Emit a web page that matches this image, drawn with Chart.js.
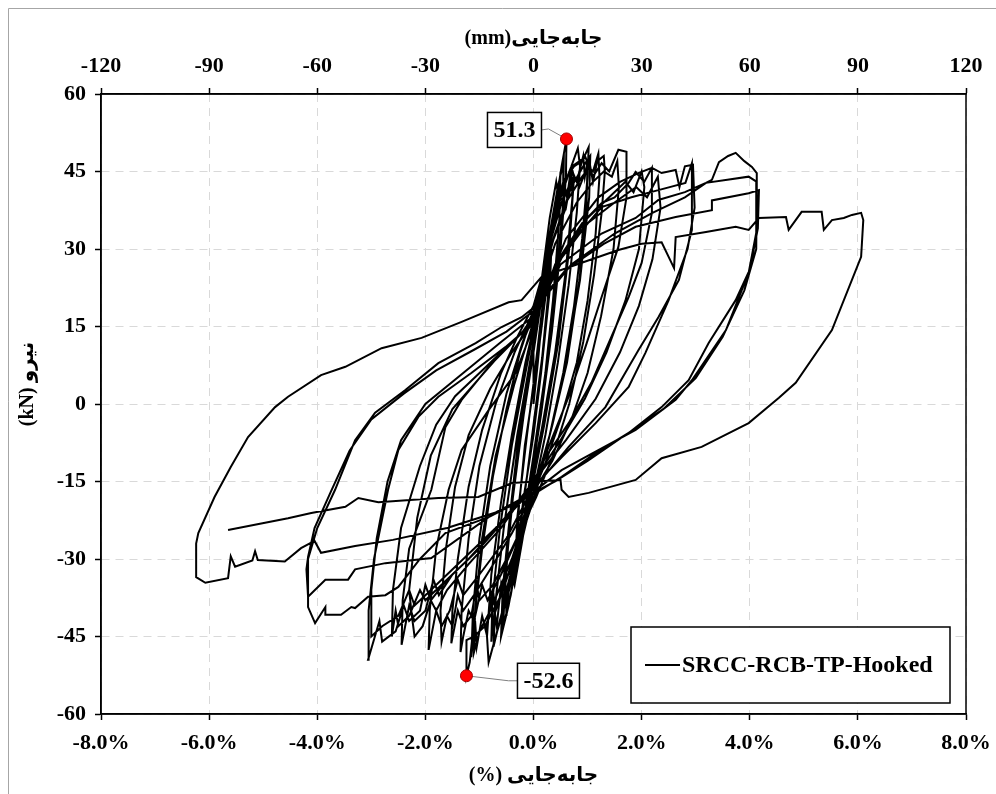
<!DOCTYPE html>
<html>
<head>
<meta charset="utf-8">
<script src="https://cdn.jsdelivr.net/npm/chart.js@4.4.0/dist/chart.umd.min.js"></script>
<style>
  html, body { margin: 0; padding: 0; background: #fff; overflow: hidden; }
</style>
</head>
<body>
<canvas id="hystChart" width="996" height="794"></canvas>
<script>
const cycle03 = [[0,0],[0.08,8],[0.16,17],[0.24,24],[0.3,28],[0.27,21],[0.16,9],[0,-4],[-0.12,-14],[-0.22,-22],[-0.3,-27],[-0.27,-20],[-0.16,-8],[0,3],[0.14,14],[0.26,24],[0.33,30],[0.3,22],[0.14,6],[0,-6],[-0.18,-18],[-0.33,-30],[-0.3,-22],[-0.12,-6],[0,4]];
const cycle05 = [[0,10],[0.15,24],[0.3,36],[0.42,43],[0.46,40],[0.5,45],[0.48,36],[0.36,20],[0.18,2],[0,-12],[-0.2,-26],[-0.35,-35],[-0.42,-32],[-0.5,-41],[-0.52,-35],[-0.42,-20],[-0.25,-4],[0,10]];
const cycle06 = [[0,4],[0.2,22],[0.4,38],[0.52,46],[0.61,51.3],[0.6,44],[0.5,30],[0.34,14],[0.14,-2],[-0.08,-17],[-0.3,-30],[-0.46,-39],[-0.6,-45],[-0.57,-36],[-0.46,-24],[-0.3,-9],[-0.1,5],[0.05,14],
  [0.25,30],[0.45,42],[0.56,47],[0.55,39],[0.42,24],[0.22,6],[0,-10],[-0.22,-25],[-0.42,-37],[-0.56,-43],[-0.52,-33],[-0.38,-18],[-0.18,-2],[0,10]];
const cycle07 = [[0,12],[0.2,28],[0.4,38],[0.55,42],[0.62,40],[0.7,46],[0.72,40],[0.6,26],[0.4,10],[0.15,-5],[-0.1,-18],[-0.35,-30],[-0.55,-38],[-0.6,-35],[-0.68,-43],[-0.72,-40],[-0.78,-46],[-0.76,-38],[-0.62,-24],[-0.4,-8],[-0.15,6],[0,14]];
const cycle08 = [[0,10],[0.3,31],[0.55,42],[0.7,46],[0.82,49.5],[0.86,46],[0.8,37],[0.65,23],[0.45,8],[0.22,-6],[0,-17],[-0.25,-28],[-0.5,-38],[-0.7,-45],[-0.83,-50],[-0.86,-45],[-0.78,-33],[-0.6,-19],[-0.4,-6],[-0.15,8],[0.05,17],
  [0.3,32],[0.5,40],[0.7,46],[0.75,44],[0.66,30],[0.46,12],[0.2,-4],[-0.1,-20],[-0.4,-33],[-0.65,-43],[-0.74,-47],[-0.7,-38],[-0.55,-24],[-0.3,-6],[0,12]];
const cycle09 = [[0,12],[0.25,30],[0.5,40],[0.6,38],[0.72,45],[0.8,43],[0.92,48],[0.95,44],[1.0,47],[0.98,38],[0.85,24],[0.62,8],[0.35,-4],[0.1,-14],[-0.2,-24],[-0.5,-34],[-0.7,-40],[-0.75,-36],[-0.88,-44],[-0.95,-41],[-1.05,-47],[-1.08,-42],[-1.15,-49],[-1.12,-40],[-1.0,-26],[-0.8,-12],[-0.5,2],[-0.2,12],[0,17]];
const cycle10 = [[0,12],[0.3,33],[0.55,43],[0.75,46],[0.9,47],[1.02,49.7],[1.0,44],[0.9,32],[0.75,19],[0.55,6],[0.3,-6],[0.05,-17],[-0.3,-28],[-0.6,-37],[-0.9,-43],[-1.1,-45],[-1.24,-45.7],[-1.24,-52.6],[-1.18,-50],[-1.1,-42],[-0.95,-28],[-0.75,-14],[-0.5,-1],[-0.25,10],[0,18],
  [0.4,33],[0.7,42],[0.92,46],[1.05,48],[1.03,40],[0.86,24],[0.6,8],[0.3,-6],[0,-17],[-0.4,-30],[-0.8,-40],[-1.0,-44],[-1.1,-48],[-1.08,-40],[-0.95,-26],[-0.7,-10],[-0.35,4],[0,16]];
const cycle12 = [[0,17],[0.3,31],[0.55,40],[0.75,44],[0.85,42],[1.0,46],[1.1,45],[1.2,48.5],[1.22,44],[1.15,33],[1.0,20],[0.8,8],[0.5,-3],[0.2,-12],[0,-17],[-0.3,-26],[-0.6,-33],[-0.85,-38],[-0.95,-35],[-1.1,-42],[-1.2,-40],[-1.3,-45],[-1.35,-48],[-1.33,-40],[-1.2,-26],[-1.0,-12],[-0.7,0],[-0.35,10],[0,18]];
const cycle13 = [[0,16],[0.3,30],[0.6,39],[0.9,44],[1.05,46],[1.1,43],[1.18,47],[1.3,48],[1.32,45],[1.26,37],[1.12,25],[0.92,12],[0.66,0],[0.36,-10],[0.05,-18],[-0.4,-28],[-0.75,-35],[-1.0,-38],[-1.05,-35],[-1.15,-41],[-1.3,-43],[-1.4,-40],[-1.52,-46.3],[-1.5,-40],[-1.4,-30],[-1.2,-16],[-0.95,-5],[-0.6,6],[-0.3,13],[0,19]];
const cycle15 = [[0,18],[0.4,31],[0.8,39],[1.1,43],[1.3,45],[1.45,44],[1.55,47],[1.58,42],[1.48,30],[1.25,17],[1.0,6],[0.7,-3],[0.35,-11],[0,-17],[-0.4,-25],[-0.8,-32],[-1.1,-37],[-1.3,-40],[-1.4,-37],[-1.5,-43],[-1.6,-41],[-1.7,-46],[-1.72,-40],[-1.62,-28],[-1.45,-16],[-1.2,-6],[-0.8,3],[-0.4,10],[0,16]];
const cycle17 = [[0,19],[0.3,30],[0.6,38],[0.7,45.9],[0.96,47.8],[1.1,44],[1.26,46.6],[1.4,45],[1.57,49.2],[1.72,48.8],[1.72,40],[1.57,30.4],[1.26,20.7],[0.96,11],[0.65,1.4],[0.28,-8.3],[0,-16],[-0.5,-26],[-1.0,-33],[-1.3,-37],[-1.4,-34],[-1.55,-40],[-1.7,-43],[-1.8,-40],[-1.94,-47.6],[-1.92,-40],[-1.8,-28],[-1.57,-16.6],[-1.33,-8.9],[-0.83,-1.2],[-0.33,6],[0,15]];
const cycle20 = [[0,16],[0.5,28],[1.0,36],[1.4,40],[1.7,43],[1.85,41],[2.0,45],[2.05,42],[1.95,30],[1.7,20],[1.35,10],[0.95,1],[0.5,-7],[0,-15],[-0.6,-24],[-1.2,-31],[-1.6,-36],[-1.8,-40],[-1.9,-38],[-2.05,-43],[-2.2,-45],[-2.25,-41],[-2.3,-36],[-2.15,-22],[-1.9,-10],[-1.5,-1],[-1.0,5],[-0.5,11],[0,16]];
const cycle22 = [[0,15],[0.4,27],[0.9,35],[1.26,38.9],[1.5,40],[1.76,42.8],[1.89,44.9],[2.05,43],[2.19,45.7],[2.19,37],[2.0,27.3],[1.76,20.7],[1.44,13],[1.07,4.1],[0.65,-3.7],[0.22,-10.3],[0,-15],[-0.5,-22],[-1.0,-28],[-1.5,-33],[-1.75,-37],[-1.85,-34],[-2.0,-40],[-2.2,-42],[-2.3,-39],[-2.44,-46.6],[-2.42,-38],[-2.3,-28],[-1.89,-16.6],[-1.63,-4.5],[-1.33,0.8],[-0.83,7.2],[-0.22,13.7],[0,17]];
const cycle25 = [[0,17],[0.5,28],[1.0,35],[1.5,39],[1.9,42],[2.1,40],[2.3,44],[2.35,38],[2.2,28],[1.95,19],[1.6,10],[1.15,1],[0.6,-7],[0,-15],[-0.6,-23],[-1.2,-30],[-1.7,-35],[-2.0,-38],[-2.1,-36],[-2.3,-41],[-2.5,-43],[-2.55,-40],[-2.62,-45],[-2.6,-36],[-2.45,-24],[-2.1,-12],[-1.8,-4],[-1.45,1.5],[-0.95,6.5],[-0.35,12.5],[0,16]];
const cycle30 = [[0,17],[0.6,30],[1.26,38.1],[1.81,40],[2.31,41.4],[2.81,42.8],[2.93,46.6],[2.93,33.7],[2.69,24],[2.31,16.8],[1.94,10.4],[1.33,-0.6],[0.65,-8.3],[0.09,-15.3],[-0.5,-22],[-1.0,-28],[-1.6,-34],[-1.9,-38],[-2.0,-35],[-2.1,-40],[-2.3,-42],[-2.4,-39],[-2.55,-44],[-2.8,-46],[-2.85,-42],[-3.06,-49.5],[-3.05,-40],[-2.95,-30],[-2.69,-16.6],[-2.5,-8.9],[-2.13,-2.5],[-1.76,1.4],[-1.15,6],[-0.52,11],[-0.09,14.9],[0.1,19],
  [0.6,32],[1.2,40],[1.6,43],[1.94,44.7],[2.19,45.7],[2.37,44.7],[2.63,45.3],[2.7,42],[2.8,46],[2.95,46.3],[2.98,38],[2.85,30],[2.5,20.1],[2.07,9.9],[1.76,3.3],[1.15,-3.7],[0.52,-10.3],[0,-16],[-0.7,-24],[-1.4,-31],[-2.0,-37],[-2.2,-39],[-2.3,-36],[-2.5,-41],[-2.8,-43],[-3.0,-45],[-3.0,-36],[-2.9,-26],[-2.7,-15],[-2.45,-7],[-2.0,0],[-1.3,6],[-0.6,12],[0,17]];
const cycle42 = [[0,17],[0.5,27],[1.26,33],[1.89,36],[2.31,39.5],[2.8,41],[3.19,42.8],[3.3,43.4],[3.43,46.8],[3.6,48],[3.74,48.6],[3.9,47],[4.04,45.9],[4.13,44.7],[4.13,33.7],[3.98,25.4],[3.56,14.3],[2.93,4.6],[2.63,0.8],[1.89,-5],[0.96,-10.3],[0.52,-12.8],[0,-17],[-0.83,-21.9],[-1.63,-25],[-2.1,-30],[-2.5,-35.4],[-2.74,-37],[-3.06,-37.3],[-3.3,-39.5],[-3.37,-39.3],[-3.56,-40.8],[-3.85,-40.8],[-3.85,-39.3],[-4.04,-42.4],[-4.17,-39.3],[-4.17,-30],[-4.0,-24],[-3.67,-16.6],[-3.3,-7],[-2.93,-1.7],[-2.37,2.7],[-1.76,7.9],[-1.07,11.8],[-0.59,14.9],[-0.22,16.8],[0,18.6],
  [0.6,26],[1.3,31],[1.89,34.3],[2.63,36.2],[3.3,37.5],[3.3,39.4],[3.98,40.8],[4.17,41.4],[4.15,34],[4.0,26],[3.74,20.1],[3.24,11.8],[2.87,4.6],[2.37,-0.6],[1.76,-5.6],[1.15,-9.5],[0.52,-14.1],[0,-17.5],[-0.83,-21.9],[-1.89,-29.8],[-2.74,-30.8],[-3.3,-32],[-3.43,-34],[-3.85,-34],[-4.17,-37.3],[-4.2,-32],[-4.17,-29.6],[-4.05,-24],[-3.75,-17],[-3.4,-9],[-3.0,-3],[-2.4,2],[-1.8,6.5],[-1.1,10.5],[-0.5,14],[0,18]];
const cycle60 = [[0,18],[0.7,27],[1.5,33],[2.2,37],[2.8,40],[3.19,42.8],[3.98,44],[4.13,43],[4.12,30],[3.9,22],[3.5,13],[3.0,5],[2.4,-1],[1.7,-6],[1.0,-11],[0.4,-15],[-0.7,-21],[-1.6,-24],[-2.6,-26.3],[-3.3,-27.5],[-3.93,-28.8],[-4.05,-26.5],[-4.3,-27.9],[-4.6,-30.5],[-5.1,-30.2],[-5.15,-28.5],[-5.2,-30.3],[-5.52,-31.5],[-5.6,-29.5],[-5.65,-33.7],[-6.07,-34.6],[-6.24,-33.5],[-6.24,-27],[-6.2,-25],[-5.9,-18],[-5.6,-12.2],[-5.28,-6.4],[-4.78,-0.6],[-4.54,1.4],[-3.93,5.6],[-3.48,7.2],[-2.81,10.8],[-2.07,12.8],[-1.33,15.9],[-0.46,19.7],[-0.22,20.1],
  [0.15,24.6],[0.8,27],[1.57,29.8],[2.0,31],[2.37,31.3],[2.6,26.3],[2.63,32.3],[3.19,33.3],[3.74,34.3],[3.98,33.7],[4.17,36],[4.67,36.2],[4.72,33.7],[4.96,37.2],[5.33,37.2],[5.37,33.7],[5.52,35.6],[5.74,36],[5.89,36.6],[6.06,37],[6.1,35.6],[6.06,28.5],[5.52,14.3],[4.85,4.1],[4.54,1.2],[3.98,-3.7],[3.11,-8.3],[2.37,-10.5],[1.89,-14.7],[1.02,-17.2],[0.65,-18],[0.52,-16.6],[0.5,-14.7]];
const finalPath = [[0.5,-14.7],[-0.4,-15.3],[-1.02,-18],[-1.76,-18.2],[-2.87,-19],[-3.24,-18.2],[-3.48,-19.9],[-4.11,-21.1],[-4.54,-22.1],[-5.65,-24.4]];

const peakDrift = [0.61, -1.24];
const peakForce = [51.3, -52.6];
const seriesName = "SRCC-RCB-TP-Hooked";

const loopPoints = [cycle03, cycle05, cycle06, cycle07, cycle08, cycle09, cycle10, cycle12, cycle13, cycle15, cycle17, cycle20, cycle22, cycle25, cycle30, cycle42, cycle60, finalPath]
  .flat()
  .map(([x, y]) => ({ x: x, y: y }));
const peakPoints = peakDrift.map((x, i) => ({ x: x, y: peakForce[i] }));

const serif = "'Liberation Serif', 'Times New Roman', 'DejaVu Sans', serif";
const tickFont = { family: serif, size: 22, weight: "bold" };
const titleFont = { family: serif, size: 20, weight: "bold" };

// keep the plot area where the reference has it, whatever the label overflow
function noSidePadding(s) {
  s.paddingLeft = 0;
  s.paddingRight = 0;
}

const extras = {
  id: "extras",
  afterDraw(chart) {
    const { ctx, chartArea: a, scales } = chart;
    ctx.save();

    // plot frame
    ctx.strokeStyle = "#000";
    ctx.lineWidth = 1.5;
    ctx.strokeRect(a.left, a.top, a.right - a.left, a.bottom - a.top);

    // outer chart border
    ctx.strokeStyle = "#a6a6a6";
    ctx.lineWidth = 1;
    ctx.beginPath();
    ctx.moveTo(8.5, 794);
    ctx.lineTo(8.5, 8.5);
    ctx.lineTo(996, 8.5);
    ctx.stroke();

    // peak labels
    const boxes = [
      { dx: -52, dy: -9, lead: [-18, -10] },
      { dx: 82, dy: 5, lead: [42, 5] }
    ];
    ctx.font = "bold 24px " + serif;
    ctx.textAlign = "center";
    ctx.textBaseline = "middle";
    peakPoints.forEach((p, i) => {
      const px = scales.x.getPixelForValue(p.x);
      const py = scales.y.getPixelForValue(p.y);
      const b = boxes[i];
      const txt = p.y.toFixed(1);
      const w = ctx.measureText(txt).width + 12;
      const h = 35;
      const cx = px + b.dx, cy = py + b.dy;
      ctx.strokeStyle = "#7f7f7f";
      ctx.lineWidth = 1;
      ctx.beginPath();
      ctx.moveTo(px, py);
      const edge = i === 0 ? cx + w / 2 : cx - w / 2;
      ctx.lineTo(px + b.lead[0], py + b.lead[1]);
      ctx.lineTo(edge, cy);
      ctx.stroke();
      ctx.fillStyle = "#fff";
      ctx.fillRect(cx - w / 2, cy - h / 2, w, h);
      ctx.strokeStyle = "#000";
      ctx.lineWidth = 1.5;
      ctx.strokeRect(cx - w / 2, cy - h / 2, w, h);
      ctx.fillStyle = "#000";
      ctx.fillText(txt, cx, cy + 1);
      ctx.beginPath();
      ctx.arc(px, py, 6, 0, Math.PI * 2);
      ctx.fillStyle = "#ff0000";
      ctx.fill();
      ctx.strokeStyle = "#a00000";
      ctx.lineWidth = 1;
      ctx.stroke();
    });

    // legend box
    const lx = a.right - 335, ly = a.bottom - 87, lw = 319, lh = 76;
    ctx.fillStyle = "#fff";
    ctx.fillRect(lx, ly, lw, lh);
    ctx.strokeStyle = "#000";
    ctx.lineWidth = 1.5;
    ctx.strokeRect(lx, ly, lw, lh);
    ctx.lineWidth = 2;
    ctx.beginPath();
    ctx.moveTo(lx + 14, ly + lh / 2);
    ctx.lineTo(lx + 49, ly + lh / 2);
    ctx.stroke();
    ctx.fillStyle = "#000";
    ctx.textAlign = "left";
    ctx.font = "bold 24px " + serif;
    ctx.fillText(chart.data.datasets[0].label, lx + 51, ly + lh / 2 + 1);

    ctx.restore();
  }
};

new Chart(document.getElementById("hystChart"), {
  type: "scatter",
  data: {
    datasets: [
      {
        label: seriesName,
        data: loopPoints,
        showLine: true,
        borderColor: "#000",
        borderWidth: 2,
        pointRadius: 0,
        tension: 0
      },
      {
        label: "peaks",
        data: peakPoints,
        showLine: false,
        pointRadius: 0
      }
    ]
  },
  options: {
    responsive: false,
    animation: false,
    layout: { padding: { right: 30 } },
    plugins: { legend: { display: false }, tooltip: { enabled: false } },
    scales: {
      x: {
        type: "linear",
        position: "bottom",
        min: -8,
        max: 8,
        ticks: { stepSize: 2, color: "#000", font: tickFont, padding: 10, callback: v => v.toFixed(1) + "%" },
        grid: { color: "#d9d9d9", lineWidth: 1, tickColor: "#000", tickLength: 6, tickWidth: 1.5 },
        border: { color: "#000", width: 1.5, dash: [8, 6] },
        title: { display: true, text: "(%) جابه‌جایی", color: "#000", font: titleFont, padding: { top: 0, bottom: 6 } },
        afterFit: s => { s.height = 80; noSidePadding(s); }
      },
      x2: {
        type: "linear",
        axis: "x",
        position: "top",
        min: -120,
        max: 120,
        ticks: { stepSize: 30, color: "#000", font: tickFont, padding: 8 },
        grid: { drawOnChartArea: false, tickColor: "#000", tickLength: 6, tickWidth: 1.5 },
        border: { color: "#000", width: 1.5 },
        title: { display: true, text: "(mm)جابه‌جایی", color: "#000", font: titleFont, padding: { top: 27, bottom: 0 } },
        afterFit: s => { s.height = 94; noSidePadding(s); }
      },
      y: {
        type: "linear",
        min: -60,
        max: 60,
        ticks: { stepSize: 15, color: "#000", font: tickFont, padding: 9 },
        grid: { color: "#d9d9d9", lineWidth: 1, tickColor: "#000", tickLength: 6, tickWidth: 1.5 },
        border: { color: "#000", width: 1.5, dash: [8, 6] },
        title: { display: true, text: "\u00a0\u00a0\u00a0\u00a0\u00a0\u00a0\u00a0\u00a0(kN) نیرو", color: "#000", font: titleFont, padding: { top: 16, bottom: 0 } },
        afterFit: s => { s.width = 101; }
      }
    }
  },
  plugins: [extras]
});
</script>
</body>
</html>
